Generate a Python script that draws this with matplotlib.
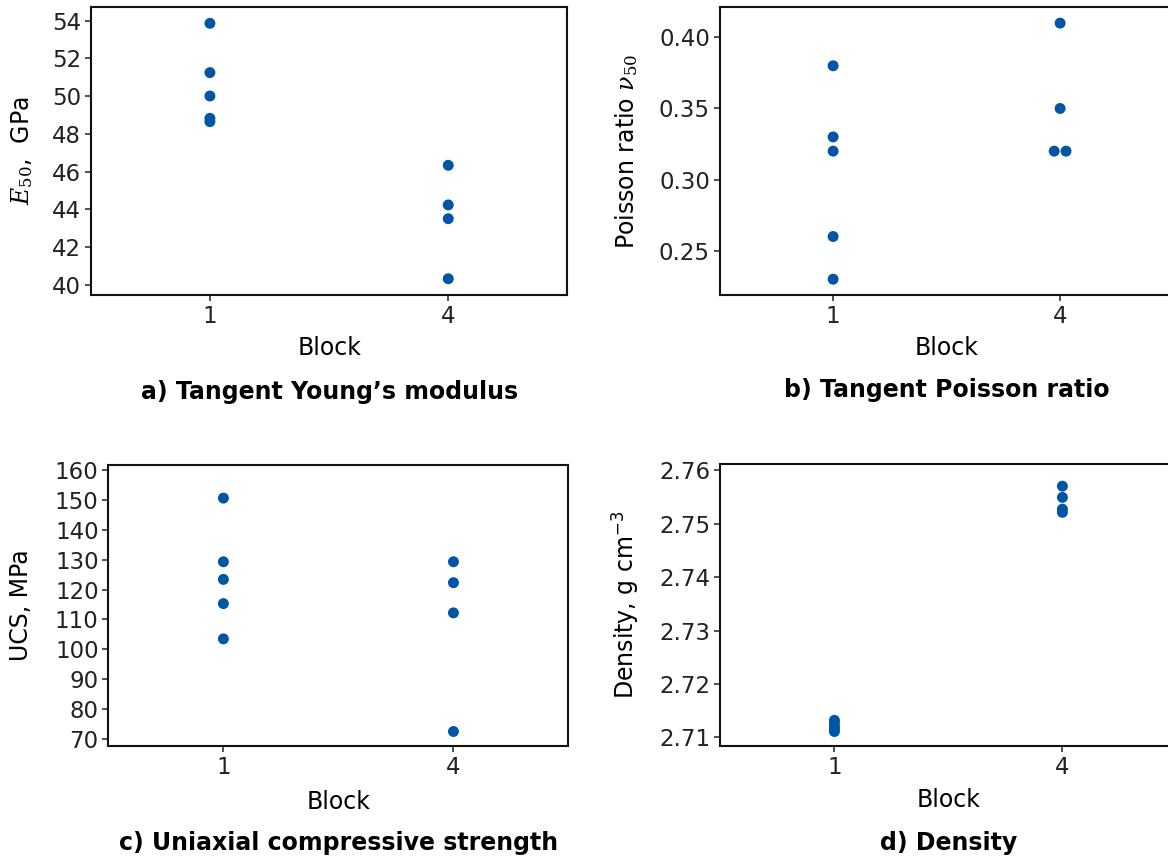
import numpy as np
import matplotlib
matplotlib.use("Agg")
import matplotlib.pyplot as plt

# Block labels shared by all panels
blocks = ["1", "4"]

# a) Tangent Young's modulus, GPa
e50_b1 = [53.86, 51.25, 50.01, 48.83, 48.65]
e50_b4 = [46.34, 44.24, 43.51, 40.33]

# b) Tangent Poisson ratio
nu_b1 = [0.38, 0.33, 0.32, 0.26, 0.23]
nu_b4 = [0.41, 0.35, 0.32, 0.32]

# c) UCS, MPa
ucs_b1 = [150.6, 129.3, 123.4, 115.3, 103.5]
ucs_b4 = [129.3, 122.3, 112.2, 72.5]

# d) Density, g cm^-3
rho_b1 = [2.7132, 2.7128, 2.7121, 2.7116, 2.7111]
rho_b4 = [2.7570, 2.7549, 2.7527, 2.7521]

plt.rcParams['font.family'] = ['DejaVu Sans']
plt.rcParams['mathtext.fontset'] = 'dejavuserif'

BLUE = '#0055a5'
TICKC = '#222222'


def dodge(vals, step=0.052):
    """x offsets so that equal values sit side by side."""
    offs = np.zeros(len(vals))
    vals = np.asarray(vals)
    for v in np.unique(vals):
        idx = np.where(vals == v)[0]
        n = len(idx)
        if n > 1:
            offs[idx] = (np.arange(n) - (n - 1) / 2) * step
    return offs


def panel(ax, groups, ylim, yticks, yfmt, ylabel, title, ylab_x, xlab_y, title_y):
    for i, g in enumerate(groups):
        x = i + dodge(g)
        ax.scatter(x, g, s=62, color=BLUE, edgecolors='none', zorder=3)
    ax.set_xlim(-0.5, 1.5)
    ax.set_xticks(range(len(blocks)))
    ax.set_xticklabels(blocks)
    ax.set_ylim(*ylim)
    ax.set_yticks(yticks)
    ax.set_yticklabels([yfmt.format(t) for t in yticks])
    ax.tick_params(direction='out', length=4.5, width=1.2, colors='#333333',
                   labelcolor=TICKC, labelsize=16.5, pad=2.5)
    for s in ax.spines.values():
        s.set_linewidth(1.5)
        s.set_color('#111111')
    ax.set_ylabel(ylabel, fontsize=17, va='center')
    ax.yaxis.set_label_coords(ylab_x, 0.5)
    ax.set_xlabel('Block', fontsize=17, va='center')
    ax.xaxis.set_label_coords(0.5, xlab_y)
    ax.text(0.5, title_y, title, transform=ax.transAxes, ha='center',
            va='center', fontsize=17, fontweight='bold')


fig = plt.figure(figsize=(11.68, 8.61), dpi=100)

ax_a = fig.add_axes([0.0777, 0.6574, 0.4081, 0.3348])
ax_b = fig.add_axes([0.6161, 0.6574, 0.3887, 0.3341])
ax_c = fig.add_axes([0.0928, 0.1336, 0.3939, 0.3264])
ax_d = fig.add_axes([0.6168, 0.1336, 0.3904, 0.3272])

panel(ax_a, [e50_b1, e50_b4], (39.47, 54.74), np.arange(40, 55, 2), '{:.0f}',
      r'$E_{50}$,  GPa', 'a) Tangent Young\u2019s modulus', -0.144, -0.184, -0.336)
panel(ax_b, [nu_b1, nu_b4], (0.2189, 0.4211), [0.25, 0.30, 0.35, 0.40], '{:.2f}',
      r'Poisson ratio $\nu_{50}$', 'b) Tangent Poisson ratio', -0.206, -0.184, -0.330)
panel(ax_c, [ucs_b1, ucs_b4], (67.66, 161.7), np.arange(70, 161, 10), '{:.0f}',
      'UCS, MPa', 'c) Uniaxial compressive strength', -0.19, -0.199, -0.345)
panel(ax_d, [rho_b1, rho_b4], (2.7084, 2.7611), [2.71, 2.72, 2.73, 2.74, 2.75, 2.76], '{:.2f}',
      r'Density, g cm$^{\mathregular{-3}}$', 'd) Density', -0.209, -0.192, -0.344)

fig.savefig('out.png', dpi=100, facecolor='white')
